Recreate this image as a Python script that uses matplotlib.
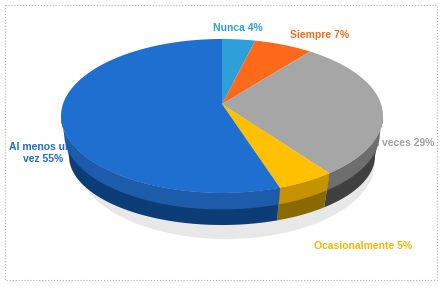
import numpy as np
import matplotlib.pyplot as plt
from matplotlib.patches import Polygon, Rectangle, Ellipse

# slices, clockwise from 12 o'clock
labels = ['Nunca', 'Siempre', 'A veces', 'Ocasionalmente', 'Al menos una vez']
values = [4, 7, 29, 5, 55]
top_colors = ['#2e9fd9', '#ff6a1a', '#a6a6a6', '#ffc000', '#1f6fd0']
side_hi = ['#2380b0', '#c85010', '#6e6e6e', '#c79200', '#1c5cab']
side_lo = ['#16597d', '#8a380b', '#404040', '#8a6a00', '#0c3d77']
text_colors = ['#2e9fd8', '#f26b22', '#a0a0a0', '#f0b800', '#1f6cc8']

# label placement (pixels)
label_text = ['Nunca 4%', 'Siempre 7%', 'A veces 29%', 'Ocasionalmente 5%',
              'Al menos una\nvez 55%']
label_pos = [(238, 28), (320, 35), (403, 143), (363, 246), (43, 153)]

fig = plt.figure(figsize=(4.43, 2.90), dpi=100)
ax = fig.add_axes([0, 0, 1, 1])
ax.set_xlim(0, 443)
ax.set_ylim(290, 0)
ax.axis('off')

# pie geometry in pixels
cx, cy, a, b = 222, 116, 161, 77
apex = (222, 104)
depth = 40
shrink = 8   # bottom rim is a bit narrower (rounded edge)


def rim(phi):
    # phi in degrees, clockwise from top; squeeze the back a bit (perspective)
    return np.radians(phi - 10 * np.sin(np.radians(phi)))


# soft shadow under the disc
ax.add_patch(Ellipse((cx + 4, cy + depth + 6), 2 * a - 24, 2 * b,
                     color='#e8e8e8', lw=0, zorder=1))

# labels sit behind the pie (the left one is partly hidden in the original)
for txt, pos, col in zip(label_text, label_pos, text_colors):
    ax.text(pos[0], pos[1], txt, color=col, fontsize=7.5, fontweight='bold',
            family='Liberation Sans', ha='center', va='center',
            linespacing=1.25, zorder=1.5)

bounds = np.concatenate([[0], np.cumsum(values)]) / np.sum(values) * 360

for i in range(len(values)):
    phis = np.linspace(bounds[i], bounds[i + 1], 200)
    t = rim(phis)
    xs, ys = cx + a * np.sin(t), cy - b * np.cos(t)

    # visible side band (front half only)
    td = np.degrees(t)
    m = (td >= 90) & (td <= 270)
    if m.any():
        tm = t[m]
        tx, ty = xs[m], ys[m]
        mx = cx + (a - shrink * 0.4) * np.sin(tm)
        my = cy - (b - shrink * 0.2) * np.cos(tm) + depth * 0.45
        bx = cx + (a - shrink) * np.sin(tm)
        by = cy - (b - shrink) * np.cos(tm) + depth
        side = np.column_stack([np.r_[tx, bx[::-1]], np.r_[ty, by[::-1]]])
        ax.add_patch(Polygon(side, closed=True, fc=side_lo[i], ec='none', zorder=2))
        band = np.column_stack([np.r_[tx, mx[::-1]], np.r_[ty, my[::-1]]])
        ax.add_patch(Polygon(band, closed=True, fc=side_hi[i], ec='none', zorder=2.1))

    # top face
    top = np.column_stack([np.r_[apex[0], xs], np.r_[apex[1], ys]])
    ax.add_patch(Polygon(top, closed=True, fc=top_colors[i], ec='none', zorder=3))

# dotted frame
ax.add_patch(Rectangle((5, 5), 432, 275, fill=False, ec='#b5b5b5', lw=0.8,
                       ls=':', zorder=4))

fig.savefig('out.png', dpi=100)
